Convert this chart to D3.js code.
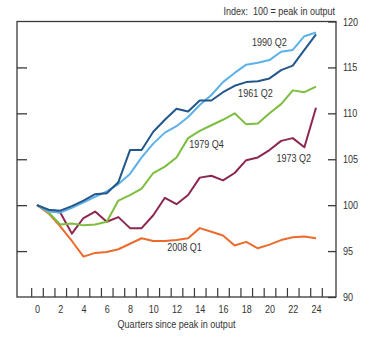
<!DOCTYPE html>
<html>
<head>
<meta charset="utf-8">
<script src="https://cdn.jsdelivr.net/npm/d3@7"></script>
<style>
  html, body { margin: 0; padding: 0; background: #fff; }
  svg text { font-family: "Liberation Sans", Arial, sans-serif; fill: #333; }
</style>
</head>
<body>
<svg id="chart" width="381" height="338"></svg>
<script>
// Quarters since the pre-recession peak in output
const quarters = d3.range(0, 25);
const xTickLabels = [0, 2, 4, 6, 8, 10, 12, 14, 16, 18, 20, 22, 24];
const yTickLabels = [90, 95, 100, 105, 110, 115, 120];

// Output index, 100 = peak in output
const s2008Q1 = [100, 99.1, 97.7, 96.1, 94.4, 94.8, 94.9, 95.2, 95.8, 96.4, 96.1, 96.1, 96.2,
                 96.4, 97.5, 97.1, 96.7, 95.6, 96.0, 95.3, 95.7, 96.2, 96.5, 96.6, 96.4];
const s1973Q2 = [100, 99.4, 99.2, 96.9, 98.6, 99.3, 98.2, 98.7, 97.5, 97.5, 98.9, 100.8, 100.1,
                 101.1, 103.0, 103.2, 102.7, 103.5, 104.9, 105.2, 106.0, 107.0, 107.3, 106.3, 110.6];
const s1979Q4 = [100, 99.2, 97.9, 98.0, 97.8, 97.9, 98.2, 100.5, 101.1, 101.8, 103.5, 104.2, 105.2,
                 107.3, 108.1, 108.7, 109.3, 110.0, 108.8, 108.9, 110.0, 111.0, 112.5, 112.3, 112.9];
const s1990Q2 = [100, 99.3, 99.2, 99.7, 100.3, 100.9, 101.5, 102.3, 103.4, 105.2, 106.7, 107.9, 108.6,
                 109.6, 110.9, 112.0, 113.4, 114.4, 115.3, 115.5, 115.8, 116.7, 116.9, 118.4, 118.8];
const s1961Q2 = [100, 99.5, 99.4, 99.9, 100.5, 101.2, 101.3, 102.5, 106.0, 106.0, 108.0, 109.3, 110.5,
                 110.2, 111.4, 111.4, 112.3, 113.0, 113.4, 113.5, 113.8, 114.7, 115.2, 116.9, 118.6];

const seriesNames = ["2008 Q1", "1973 Q2", "1979 Q4", "1990 Q2", "1961 Q2"];
const seriesValues = [s2008Q1, s1973Q2, s1979Q4, s1990Q2, s1961Q2];
const seriesColors = ["#eb6b2c", "#8c2652", "#7dbd40", "#5cb1e7", "#23578b"];
// where each series name sits, in data units (quarter, index)
const labelQuarter = [11.2, 20.6, 13.1, 18.5, 17.3];
const labelValue = [95.05, 104.7, 106.2, 117.35, 111.8];

const svg = d3.select("#chart");
const plotL = 17, plotR = 336, plotT = 21.5, plotB = 297;

const x = d3.scaleLinear().domain([-1.72, 25.72]).range([plotL, plotR]);
const y = d3.scaleLinear().domain([90, 120]).range([plotB, plotT]);

// plot frame
svg.append("rect")
  .attr("x", plotL).attr("y", plotT)
  .attr("width", plotR - plotL).attr("height", plotB - plotT)
  .attr("fill", "none").attr("stroke", "#3a3a3a").attr("stroke-width", 1.3);

// bottom tick marks between quarters
const xTicks = svg.append("g").attr("transform", `translate(0,${plotB})`)
  .call(d3.axisBottom(x).tickValues(d3.range(-0.5, 25, 1)).tickSize(-9).tickFormat(""));
xTicks.select(".domain").remove();
xTicks.selectAll("line").attr("stroke", "#3a3a3a").attr("stroke-width", 1.2);

// bottom tick labels
const xLab = svg.append("g").attr("transform", `translate(0,${plotB})`)
  .call(d3.axisBottom(x).tickValues(xTickLabels).tickSize(0).tickPadding(8));
xLab.select(".domain").remove();
xLab.selectAll("text").attr("font-size", 11).attr("fill", "#333");

// left inward ticks
const yl = svg.append("g").attr("transform", `translate(${plotL},0)`)
  .call(d3.axisLeft(y).tickValues([95, 100, 105, 110, 115]).tickSize(-10).tickFormat(""));
yl.select(".domain").remove();
yl.selectAll("line").attr("stroke", "#3a3a3a").attr("stroke-width", 1.3);

// right inward ticks with labels
const yr = svg.append("g").attr("transform", `translate(${plotR},0)`)
  .call(d3.axisRight(y).tickValues(yTickLabels).tickSize(-8).tickPadding(7));
yr.select(".domain").remove();
yr.selectAll("line").attr("stroke", "#3a3a3a").attr("stroke-width", 1.3);
yr.selectAll("text").attr("font-size", 11).attr("fill", "#333");

// series lines
const line = d3.line().x((d, i) => x(quarters[i])).y(d => y(d));
seriesValues.forEach((vals, k) => {
  svg.append("path")
    .datum(vals)
    .attr("d", line)
    .attr("fill", "none")
    .attr("stroke", seriesColors[k])
    .attr("stroke-width", 2)
    .attr("stroke-linejoin", "round");
});

// series names
seriesNames.forEach((name, k) => {
  svg.append("text")
    .attr("x", x(labelQuarter[k]))
    .attr("y", y(labelValue[k]))
    .attr("font-size", 11)
    .text(name);
});

// unit note and axis title
svg.append("text")
  .attr("x", 335).attr("y", 15)
  .attr("text-anchor", "end").attr("font-size", 11)
  .style("white-space", "pre")
  .text("Index:  100 = peak in output");

svg.append("text")
  .attr("x", (plotL + plotR) / 2).attr("y", 328)
  .attr("text-anchor", "middle").attr("font-size", 11)
  .text("Quarters since peak in output");

// condensed lettering: squeeze every label to a narrow width
svg.selectAll("text").each(function () {
  const w = this.getComputedTextLength();
  if (w > 0) {
    d3.select(this)
      .attr("textLength", (w * 0.82).toFixed(2))
      .attr("lengthAdjust", "spacingAndGlyphs");
  }
});
</script>
</body>
</html>
